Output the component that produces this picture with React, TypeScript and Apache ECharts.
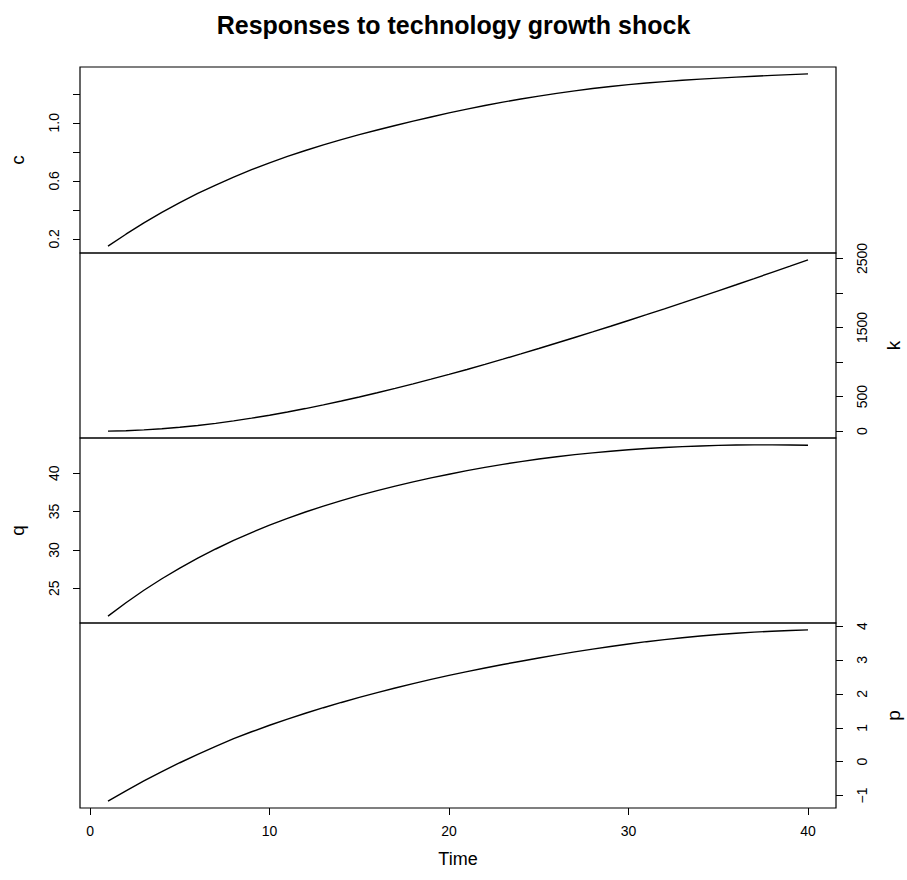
import React, { useEffect, useRef } from "react";
import * as echarts from "echarts";

const time = [1, 2, 3, 4, 5, 6, 7, 8, 9, 10, 11, 12, 13, 14, 15, 16, 17, 18, 19, 20, 21, 22, 23, 24, 25, 26, 27, 28, 29, 30, 31, 32, 33, 34, 35, 36, 37, 38, 39, 40];

const cValues = [0.15, 0.232, 0.31, 0.383, 0.45, 0.513, 0.571, 0.626, 0.677, 0.724, 0.768, 0.809, 0.848, 0.884, 0.918, 0.95, 0.981, 1.011, 1.04, 1.068, 1.094, 1.119, 1.142, 1.164, 1.184, 1.203, 1.22, 1.236, 1.25, 1.263, 1.274, 1.284, 1.293, 1.301, 1.308, 1.315, 1.321, 1.327, 1.332, 1.337];
const kValues = [0, 6, 18, 34, 56, 82, 113, 149, 188, 231, 278, 327, 380, 436, 495, 556, 620, 685, 753, 822, 893, 967, 1042, 1118, 1196, 1276, 1356, 1437, 1519, 1602, 1686, 1771, 1857, 1944, 2032, 2120, 2209, 2299, 2389, 2480];
const qValues = [21.37, 23.12, 24.74, 26.24, 27.63, 28.92, 30.12, 31.23, 32.26, 33.22, 34.11, 34.94, 35.71, 36.43, 37.1, 37.73, 38.32, 38.87, 39.38, 39.86, 40.33, 40.76, 41.15, 41.5, 41.84, 42.14, 42.41, 42.65, 42.86, 43.05, 43.21, 43.35, 43.46, 43.55, 43.62, 43.67, 43.69, 43.69, 43.67, 43.63];
const pValues = [-1.165, -0.86, -0.57, -0.294, -0.032, 0.217, 0.453, 0.677, 0.882, 1.075, 1.257, 1.429, 1.592, 1.747, 1.895, 2.037, 2.173, 2.303, 2.427, 2.545, 2.657, 2.764, 2.866, 2.963, 3.058, 3.15, 3.238, 3.321, 3.399, 3.472, 3.54, 3.602, 3.658, 3.708, 3.752, 3.79, 3.822, 3.849, 3.871, 3.889];

const xTicks = [0, 10, 20, 30, 40];
const cTicks = [0.2, 0.4, 0.6, 0.8, 1.0, 1.2];
const cLabels = [0.2, 0.6, 1.0];
const kTicks = [0, 500, 1000, 1500, 2000, 2500];
const kLabels = [0, 500, 1500, 2500];
const qTicks = [25, 30, 35, 40];
const qLabels = [25, 30, 35, 40];
const pTicks = [-1, 0, 1, 2, 3, 4];
const pLabels = [-1, 0, 1, 2, 3, 4];

const titleText = "Responses to technology growth shock";
const xName = "Time";

const FONT = "'Liberation Sans', Arial, Helvetica, sans-serif";

const panels = [
  { name: "c", values: cValues, ticks: cTicks, labels: cLabels, side: "left", dec: 1 },
  { name: "k", values: kValues, ticks: kTicks, labels: kLabels, side: "right", dec: 0 },
  { name: "q", values: qValues, ticks: qTicks, labels: qLabels, side: "left", dec: 0 },
  { name: "p", values: pValues, ticks: pTicks, labels: pLabels, side: "right", dec: 0 },
];

const gridTops = [67, 253, 438, 623];
const gridHeights = [186, 185, 185, 185];

function fmt(v: number, dec: number) {
  const s = v.toFixed(dec);
  return s.startsWith("-") ? "\u2212" + s.slice(1) : s;
}

export default function App() {
  const ref = useRef<HTMLDivElement>(null);
  useEffect(() => {
    if (!ref.current) return;
    const chart = echarts.init(ref.current, undefined, { renderer: "svg" });
    const xMin = time[0] - 0.04 * (time[time.length - 1] - time[0]);
    const xMax = time[time.length - 1] + 0.04 * (time[time.length - 1] - time[0]);

    const grids = panels.map((_, i) => ({
      left: 80,
      width: 756,
      top: gridTops[i],
      height: gridHeights[i],
      show: true,
      borderColor: "#000",
      borderWidth: 1.2,
      backgroundColor: "transparent",
      containLabel: false,
      outerBoundsMode: "none",
    }));

    const xAxes = panels.map((_, i) => {
      const last = i === panels.length - 1;
      return {
        type: "value",
        gridIndex: i,
        position: "bottom",
        min: xMin,
        max: xMax,
        show: last,
        splitLine: { show: false },
        axisLine: { show: false, onZero: false },
        axisTick: {
          show: last,
          customValues: xTicks,
          length: 7,
          lineStyle: { color: "#000", width: 1 },
        },
        axisLabel: {
          show: last,
          customValues: xTicks,
          margin: 16,
          color: "#000",
          fontSize: 14,
          fontFamily: FONT,
        },
        name: last ? xName : "",
        nameLocation: "middle",
        nameGap: 42,
        nameTextStyle: { color: "#000", fontSize: 18, fontFamily: FONT },
      };
    });

    const yAxes = panels.map((p, i) => {
      const vmin = Math.min(...p.values);
      const vmax = Math.max(...p.values);
      const span = vmax - vmin;
      return {
        type: "value",
        gridIndex: i,
        position: p.side,
        min: vmin - 0.04 * span,
        max: vmax + 0.04 * span,
        splitLine: { show: false },
        axisLine: { show: false, onZero: false },
        axisTick: {
          show: true,
          customValues: p.ticks,
          length: 7,
          lineStyle: { color: "#000", width: 1 },
        },
        axisLabel: {
          show: true,
          customValues: p.labels,
          rotate: 90,
          margin: 19,
          color: "#000",
          fontSize: 14,
          fontFamily: FONT,
          formatter: (v: number) => fmt(v, p.dec),
        },
        name: p.name,
        nameLocation: "middle",
        nameRotate: 90,
        nameGap: p.side === "left" ? 53 : 48,
        nameTextStyle: { color: "#000", fontSize: 19, fontFamily: FONT },
      };
    });

    const series = panels.map((p, i) => ({
      type: "line",
      xAxisIndex: i,
      yAxisIndex: i,
      data: time.map((t, j) => [t, p.values[j]]),
      showSymbol: false,
      symbol: "none",
      lineStyle: { color: "#000", width: 1.4 },
      silent: true,
    }));

    chart.setOption({
      animation: false,
      backgroundColor: "#fff",
      title: {
        text: titleText,
        left: "center",
        top: 7,
        textStyle: { color: "#000", fontSize: 25, fontWeight: "bold", fontFamily: FONT },
      },
      grid: grids,
      xAxis: xAxes,
      yAxis: yAxes,
      series,
    });
    return () => chart.dispose();
  }, []);
  return (
    <div
      ref={ref}
      style={{ position: "absolute", left: 0, top: 0, width: 907, height: 880 }}
    />
  );
}
